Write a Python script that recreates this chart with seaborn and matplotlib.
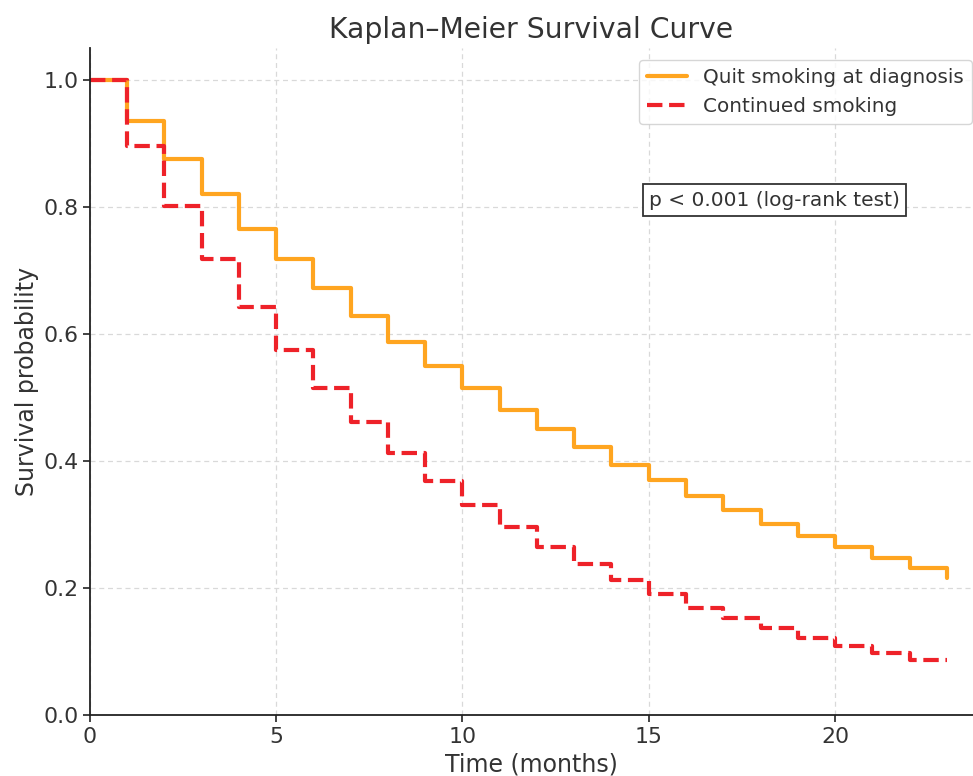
import matplotlib
matplotlib.use("Agg")
import matplotlib.pyplot as plt
import seaborn as sns
import pandas as pd

time_months = list(range(0, 24))
quit_survival = [1.000, 0.936, 0.876, 0.820, 0.766, 0.718, 0.672, 0.628, 0.587,
                 0.550, 0.515, 0.481, 0.450, 0.422, 0.394, 0.370, 0.345, 0.323,
                 0.302, 0.283, 0.265, 0.248, 0.232, 0.216]
cont_survival = [1.000, 0.896, 0.802, 0.718, 0.643, 0.575, 0.515, 0.461, 0.413,
                 0.369, 0.331, 0.296, 0.265, 0.238, 0.213, 0.191, 0.169, 0.153,
                 0.137, 0.122, 0.109, 0.098, 0.088, 0.088]
series_labels = ["Quit smoking at diagnosis", "Continued smoking"]
title = "Kaplan\u2013Meier Survival Curve"
xlabel = "Time (months)"
ylabel = "Survival probability"
annotation = "p < 0.001 (log-rank test)"

df_quit = pd.DataFrame({"t": time_months, "s": quit_survival})
df_cont = pd.DataFrame({"t": time_months, "s": cont_survival})

sns.set_theme(style="whitegrid")
text_color = "#333333"
plt.rcParams.update({
    "font.family": ["DejaVu Sans"],
    "text.color": text_color,
    "axes.labelcolor": text_color,
    "xtick.color": text_color,
    "ytick.color": text_color,
})

fig = plt.figure(figsize=(9.73, 7.76), dpi=100)
ax = fig.add_axes([0.0922, 0.078, 0.9078, 0.860])

sns.lineplot(data=df_quit, x="t", y="s", ax=ax, color="#FFA520", linewidth=3,
             drawstyle="steps-post", label=series_labels[0])
sns.lineplot(data=df_cont, x="t", y="s", ax=ax, color="#EE2229", linewidth=3,
             linestyle="--", drawstyle="steps-post", label=series_labels[1])

ax.set_xlim(0, 23.7)
ax.set_ylim(0, 1.05)
ax.set_xticks([0, 5, 10, 15, 20])
ax.set_yticks([0.0, 0.2, 0.4, 0.6, 0.8, 1.0])
ax.set_yticklabels(["0.0", "0.2", "0.4", "0.6", "0.8", "1.0"])

ax.grid(True, linestyle=(0, (4, 3)), color="#d9d9d9", linewidth=0.9)
for side in ["top", "right"]:
    ax.spines[side].set_visible(False)
for side in ["left", "bottom"]:
    ax.spines[side].set_visible(True)
    ax.spines[side].set_color("#222222")
    ax.spines[side].set_linewidth(1.3)
ax.tick_params(axis="both", which="major", direction="out", length=5, width=1.2,
               color="#222222", labelsize=15.8, pad=3, bottom=True, left=True)

ax.set_title(title, fontsize=20.3, color=text_color, pad=7)
ax.set_xlabel(xlabel, fontsize=17, labelpad=4)
ax.set_ylabel(ylabel, fontsize=17, labelpad=3)

leg = ax.legend(loc="upper right", bbox_to_anchor=(0.999, 0.982), borderaxespad=0,
                fontsize=14.4, frameon=True, fancybox=True)
leg.get_frame().set_edgecolor("#cccccc")
leg.get_frame().set_facecolor("white")

ax.text(15, 0.811, annotation, fontsize=14.5, ha="left", va="center", color=text_color,
        bbox=dict(boxstyle="square,pad=0.3", facecolor="white", edgecolor="#333333",
                  linewidth=1.3))

fig.savefig("out.png", dpi=100)
